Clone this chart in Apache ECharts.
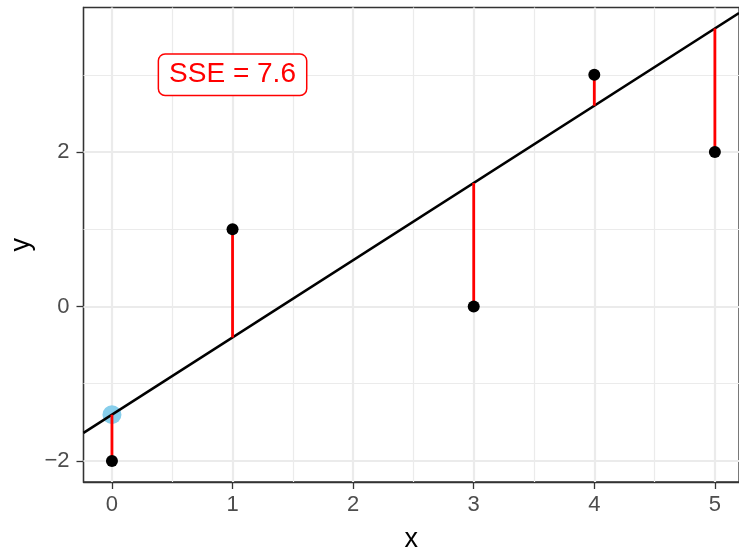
<!DOCTYPE html>
<html>
<head>
<meta charset="utf-8">
<script src="https://cdn.jsdelivr.net/npm/echarts@6/dist/echarts.min.js"></script>
<style>
html, body { margin: 0; padding: 0; background: #ffffff; }
#chart { width: 739px; height: 552px; }
</style>
</head>
<body>
<div id="chart"></div>
<script>
// observed points
const xValues = [0, 1, 3, 4, 5];
const yValues = [-2, 1, 0, 3, 2];
// fitted line y = intercept + slope * x
const intercept = -1.4;
const slope = 1;
const sseText = 'SSE = 7.6';
const labelPos = [1, 3];
// axes
const xTicks = [0, 1, 2, 3, 4, 5];
const yTicks = [-2, 0, 2];
const xMinor = [0.5, 1.5, 2.5, 3.5, 4.5];
const yMinor = [-1, 1, 3];
const xRange = [-0.236, 5.2];
const yRange = [-2.272, 3.871];

let chart = echarts.init(document.getElementById('chart'));

const fontFamily = '"Liberation Sans", Arial, sans-serif';

function gridLines() {
    let data = [];
    xTicks.forEach(v => data.push({ xAxis: v, lineStyle: { width: 2.2 } }));
    xMinor.forEach(v => data.push({ xAxis: v, lineStyle: { width: 1.2 } }));
    yTicks.forEach(v => data.push({ yAxis: v, lineStyle: { width: 2.2 } }));
    yMinor.forEach(v => data.push({ yAxis: v, lineStyle: { width: 1.2 } }));
    return data;
}

let series = [];

// background grid drawn with markLine on an empty series
series.push({
    type: 'line',
    data: [],
    z: 1,
    silent: true,
    markLine: {
        z: 1,
        silent: true,
        symbol: 'none',
        animation: false,
        label: { show: false },
        lineStyle: { color: '#EBEBEB', type: 'solid' },
        data: gridLines()
    }
});

// highlighted intercept point
series.push({
    type: 'scatter',
    z: 10,
    symbolSize: 19,
    itemStyle: { color: '#87CEEB', opacity: 1 },
    data: [[0, intercept]]
});

// regression line across the panel
series.push({
    type: 'line',
    z: 11,
    symbol: 'none',
    lineStyle: { color: '#000000', width: 2.5 },
    data: [
        [xRange[0], intercept + slope * xRange[0]],
        [xRange[1], intercept + slope * xRange[1]]
    ]
});

// residual segments
xValues.forEach((x, i) => {
    series.push({
        type: 'line',
        z: 12,
        symbol: 'none',
        lineStyle: { color: '#FF0000', width: 2.8 },
        data: [[x, yValues[i]], [x, intercept + slope * x]]
    });
});

// observed points
series.push({
    type: 'scatter',
    z: 13,
    symbolSize: 12,
    itemStyle: { color: '#000000', opacity: 1 },
    data: xValues.map((x, i) => [x, yValues[i]])
});

// SSE label
series.push({
    type: 'scatter',
    z: 14,
    symbolSize: 0,
    itemStyle: { opacity: 1 },
    data: [labelPos],
    label: {
        show: true,
        position: 'inside',
        formatter: sseText,
        color: '#FF0000',
        fontFamily: fontFamily,
        fontSize: 28,
        backgroundColor: '#ffffff',
        borderColor: '#FF0000',
        borderWidth: 1.5,
        borderRadius: 6,
        padding: [7, 10, 5, 10]
    }
});

let option = {
    backgroundColor: '#ffffff',
    animation: false,
    grid: {
        left: 83.5,
        right: 0,
        top: 7.5,
        bottom: 70,
        outerBoundsMode: 'none',
        containLabel: false,
        show: true,
        backgroundColor: '#ffffff',
        borderColor: '#333333',
        borderWidth: 1.3
    },
    xAxis: {
        type: 'value',
        min: xRange[0],
        max: xRange[1],
        name: 'x',
        nameLocation: 'middle',
        nameGap: 44,
        nameMoveOverlap: false,
        nameTextStyle: { color: '#000000', fontSize: 27, fontFamily: fontFamily },
        axisLine: { show: true, onZero: false, lineStyle: { color: '#333333', width: 1.3 } },
        axisTick: { show: true, length: 7, customValues: xTicks, lineStyle: { color: '#333333', width: 1.3 } },
        axisLabel: {
            customValues: xTicks,
            margin: 12,
            color: '#4D4D4D',
            fontSize: 22,
            fontFamily: fontFamily
        },
        splitLine: { show: false }
    },
    yAxis: {
        type: 'value',
        min: yRange[0],
        max: yRange[1],
        name: 'y',
        nameLocation: 'middle',
        nameGap: 48,
        nameMoveOverlap: false,
        nameTextStyle: { color: '#000000', fontSize: 27, fontFamily: fontFamily },
        axisLine: { show: true, onZero: false, lineStyle: { color: '#333333', width: 1.3 } },
        axisTick: { show: true, length: 7, customValues: yTicks, lineStyle: { color: '#333333', width: 1.3 } },
        axisLabel: {
            customValues: yTicks,
            margin: 14,
            color: '#4D4D4D',
            fontSize: 22,
            fontFamily: fontFamily,
            formatter: v => String(v).replace('-', '\u2212')
        },
        splitLine: { show: false }
    },
    series: series
};

chart.setOption(option);
</script>
</body>
</html>
